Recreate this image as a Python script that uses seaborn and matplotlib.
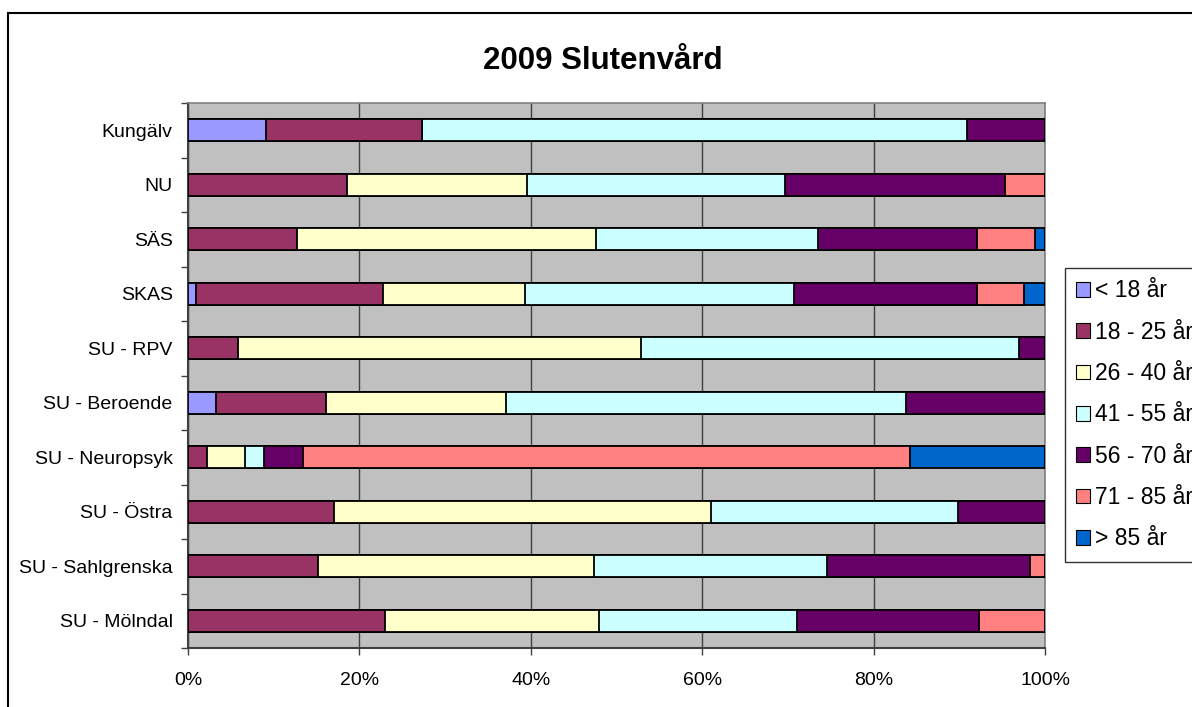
import numpy as np
import pandas as pd
import matplotlib
matplotlib.use("Agg")
import matplotlib.pyplot as plt
import matplotlib.patches as mpatches
from matplotlib.ticker import FixedLocator, FuncFormatter
import seaborn as sns

categories = ["Kungälv", "NU", "SÄS", "SKAS", "SU - RPV", "SU - Beroende",
              "SU - Neuropsyk", "SU - Östra", "SU - Sahlgrenska", "SU - Mölndal"]
series_names = ["< 18 år", "18 - 25 år", "26 - 40 år", "41 - 55 år",
                "56 - 70 år", "71 - 85 år", "> 85 år"]
under_18 = [9.1, 0, 0, 0.9, 0, 3.3, 0, 0, 0, 0]
age_18_25 = [18.2, 18.5, 12.7, 21.9, 5.8, 12.8, 2.2, 17.0, 15.2, 23.0]
age_26_40 = [0, 21.0, 34.9, 16.5, 47.1, 21.0, 4.5, 44.0, 32.2, 25.0]
age_41_55 = [63.6, 30.2, 25.9, 31.4, 44.1, 46.7, 2.2, 28.8, 27.2, 23.1]
age_56_70 = [9.1, 25.6, 18.6, 21.4, 3.0, 16.2, 4.5, 10.2, 23.6, 21.2]
age_71_85 = [0, 4.7, 6.7, 5.4, 0, 0, 70.9, 0, 1.8, 7.7]
over_85 = [0, 0, 1.2, 2.5, 0, 0, 15.7, 0, 0, 0]
colors = ["#9999FF", "#993366", "#FFFFCC", "#CCFFFF", "#660066", "#FF8080", "#0066CC"]
x_ticks = [0, 20, 40, 60, 80, 100]

series = [under_18, age_18_25, age_26_40, age_41_55, age_56_70, age_71_85, over_85]
df = pd.DataFrame(np.array(series).T, columns=series_names)
df.insert(0, "Enhet", categories)
cum = df[series_names].cumsum(axis=1)

sns.set_style("white")
plt.rcParams["font.family"] = ["Liberation Sans", "DejaVu Sans"]
plt.rcParams["text.color"] = "black"
plt.rcParams["xtick.labelcolor"] = "black"
plt.rcParams["ytick.labelcolor"] = "black"

fig = plt.figure(figsize=(11.92, 7.07), dpi=100)
ax = fig.add_axes([188/1192, 1-648/707, (1045-188)/1192, (648-103)/707])
ax.set_facecolor("#C0C0C0")

for i in range(len(series_names) - 1, -1, -1):
    name = series_names[i]
    sns.barplot(x=cum[name].values, y=df["Enhet"], color=colors[i], orient="h",
                width=0.4, edgecolor="black", linewidth=1.3, saturation=1,
                ax=ax, zorder=3)

ax.set_xlim(0, 100)
ax.set_ylim(len(categories) - 0.5, -0.5)
ax.set_xlabel("")
ax.set_ylabel("")
ax.xaxis.set_major_locator(FixedLocator(x_ticks))
ax.xaxis.set_major_formatter(FuncFormatter(lambda v, p: f"{v:.0f}%"))
ax.grid(axis="x", color="#404040", linewidth=1.0, zorder=1)
ax.grid(axis="y", visible=False)
ax.set_axisbelow(True)

ax.yaxis.set_minor_locator(FixedLocator(np.arange(-0.5, len(categories), 1.0)))
ax.tick_params(axis="y", which="major", length=0, pad=11, labelsize=14, labelcolor="black")
ax.tick_params(axis="y", which="minor", length=5, width=1.0, color="#404040", direction="out", left=True)
ax.tick_params(axis="x", which="major", length=5, width=1.0, color="#404040", direction="out",
               bottom=True, pad=12, labelsize=14, labelcolor="black")

for s in ["top", "right"]:
    ax.spines[s].set_color("#808080")
    ax.spines[s].set_linewidth(1.2)
for s in ["left", "bottom"]:
    ax.spines[s].set_color("#404040")
    ax.spines[s].set_linewidth(1.5)

fig.text(603/1192, 1-61/707, "2009 Slutenvård", ha="center", va="center",
         fontsize=22.5, fontweight="bold", color="black")

handles = [mpatches.Patch(facecolor=c, edgecolor="black", linewidth=0.8, label=n)
           for c, n in zip(colors, series_names)]
leg = fig.legend(handles=handles, loc="upper left", bbox_to_anchor=(1065/1192, 1-268/707),
                 fontsize=16.5, frameon=True, fancybox=False, edgecolor="black",
                 handlelength=0.6, handleheight=0.6, handletextpad=0.2,
                 labelspacing=0.8, borderpad=0.5, borderaxespad=0)
leg.get_frame().set_linewidth(1.0)
for t in leg.get_texts():
    t.set_color("black")

border = mpatches.Rectangle((8/1192, -0.1), 1.2, 1 - 13/707 + 0.1, transform=fig.transFigure,
                            fill=False, edgecolor="black", linewidth=1.5, clip_on=False)
fig.patches.append(border)

fig.savefig("out.png", dpi=100, facecolor="white")
